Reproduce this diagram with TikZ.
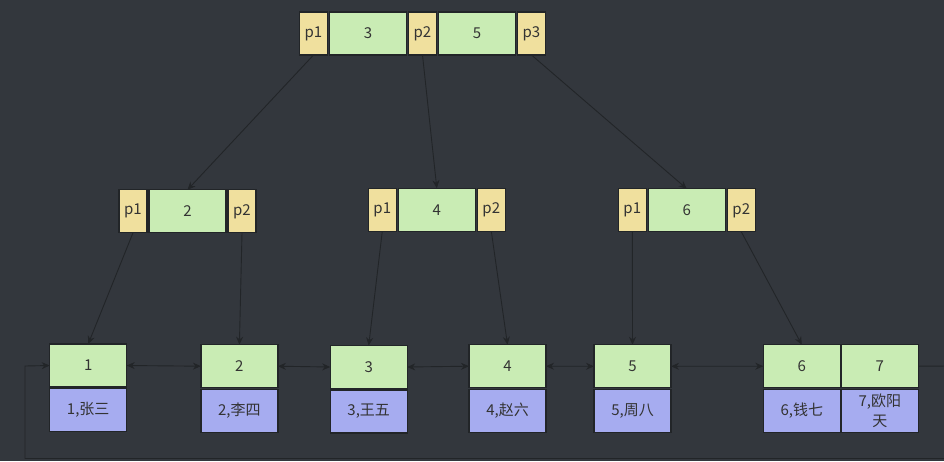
\documentclass[tikz,border=0pt]{standalone}
\usepackage{fontspec}
\setmainfont{Noto Sans CJK SC}
\usetikzlibrary{positioning,arrows.meta}
\definecolor{bgc}{HTML}{33373D}
\definecolor{edgec}{HTML}{222528}
\definecolor{ptrc}{HTML}{F0E09E}
\definecolor{keyc}{HTML}{C9ECB4}
\definecolor{datc}{HTML}{A6ACF0}
\definecolor{txtc}{HTML}{333333}

\begin{document}
\begin{tikzpicture}[x=1pt,y=-1pt,
			ptr/.style={draw=edgec, line width=1.2pt, fill=ptrc, text=txtc, minimum width=28pt, minimum height=43pt, inner sep=0pt, outer sep=0pt, font=\fontsize{15pt}{20pt}\selectfont},
			key/.style={ptr, fill=keyc, minimum width=77pt},
			dat/.style={key, fill=datc, align=center},
			link/.style={draw=edgec, line width=0.9pt, -{Stealth[length=8pt,width=7pt]}},
			twin/.style={link, {Stealth[length=8pt,width=7pt]}-{Stealth[length=8pt,width=7pt]}}]
			\clip (0,0) rectangle (944,461);
			\fill[bgc] (0,0) rectangle (944,461);

			% root
			\node[ptr] (tp1) at (313.5,33.5) {p1};
			\node[key, right=2pt of tp1] (tk3) {3};
			\node[ptr, right=2pt of tk3] (tp2) {p2};
			\node[key, right=2pt of tp2] (tk5) {5};
			\node[ptr, right=2pt of tk5] (tp3) {p3};

			% second level
			\node[ptr] (lp1) at (133,211.3) {p1};
			\node[key, right=2pt of lp1] (lk2) {2};
			\node[ptr, right=2pt of lk2] (lp2) {p2};

			\node[ptr] (mp1) at (382.3,209.7) {p1};
			\node[key, right=2pt of mp1] (mk4) {4};
			\node[ptr, right=2pt of mk4] (mp2) {p2};

			\node[ptr] (rp1) at (632.3,210.3) {p1};
			\node[key, right=2pt of rp1] (rk6) {6};
			\node[ptr, right=2pt of rk6] (rp2) {p2};

			% leaves
			\node[key] (l1) at (88.2,365.5) {1};
			\node[key] (l2) at (239.4,366.2) {2};
			\node[key] (l3) at (368.7,367) {3};
			\node[key] (l4) at (507.5,366.2) {4};
			\node[key] (l5) at (632.5,366.3) {5};
			\node[key] (l6) at (801.8,366.2) {6};
			\node[key, right=1pt of l6] (l7) {7};
			\node[dat, below=1.5pt of l1] (d1) {1,张三};
			\node[dat, below=1.5pt of l2] (d2) {2,李四};
			\node[dat, below=1.5pt of l3] (d3) {3,王五};
			\node[dat, below=1.5pt of l4] (d4) {4,赵六};
			\node[dat, below=1.5pt of l5] (d5) {5,周八};
			\node[dat, below=1.5pt of l6] (d6) {6,钱七};
			\node[dat, below=1.5pt of l7] (d7) {7,欧阳\\天};

			% pointers
			\draw[link] (tp1.south) -- (lk2.north);
			\draw[link] (tp2.south) -- (mk4.north);
			\draw[link] (tp3.south) -- (rk6.north);
			\draw[link] (lp1.south) -- (l1.north);
			\draw[link] (lp2.south) -- (l2.north);
			\draw[link] (mp1.south) -- (l3.north);
			\draw[link] (mp2.south) -- (l4.north);
			\draw[link] (rp1.south) -- (l5.north);
			\draw[link] (rp2.south) -- (l6.north);

			% leaf chain
			\draw[twin] (l1.east) -- (l2.west);
			\draw[twin] (l2.east) -- (l3.west);
			\draw[twin] (l3.east) -- (l4.west);
			\draw[twin] (l4.east) -- (l5.west);
			\draw[twin] (l5.east) -- (l6.west);
			\coordinate (ra) at (950,366);
			\coordinate (rb) at (950,458.5);
			\coordinate (la) at (25,458.5);
			\coordinate (lb) at (25,366);
			\draw[link] (l7.east) -- (ra) -- (rb) -- (la) -- (lb) -- (l1.west);
\end{tikzpicture}
\end{document}
